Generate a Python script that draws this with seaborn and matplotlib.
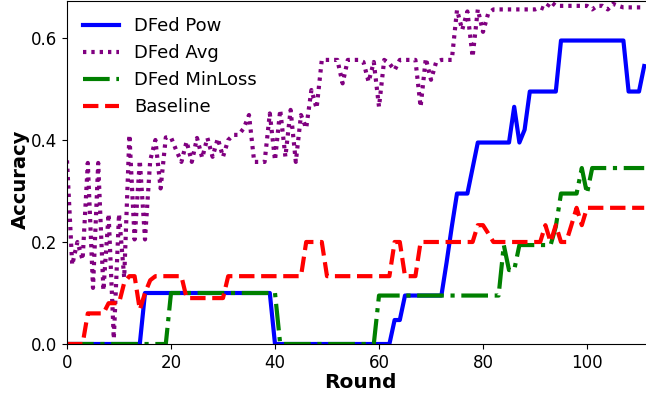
import numpy as np
import pandas as pd
import matplotlib
matplotlib.use("Agg")
import matplotlib.pyplot as plt
import seaborn as sns

rounds = list(range(112))

dfed_pow = ([0.0] * 15 + [0.1] * 25 + [0.0] * 23 + [0.047, 0.047] + [0.095] * 8 +
            [0.16, 0.23, 0.295, 0.295, 0.295, 0.345] + [0.395] * 7 +
            [0.465, 0.395, 0.42] + [0.495] * 6 + [0.595] * 13 + [0.495] * 3 + [0.545])

dfed_avg = [0.36, 0.155, 0.2, 0.165, 0.355, 0.11, 0.355, 0.105, 0.255, 0.01,
            0.255, 0.13, 0.41, 0.205, 0.36, 0.205, 0.36, 0.40, 0.305, 0.405,
            0.405, 0.38, 0.357, 0.397, 0.357, 0.404, 0.365, 0.404, 0.367, 0.403,
            0.367, 0.40, 0.41, 0.41, 0.423, 0.449, 0.357, 0.357, 0.357, 0.452,
            0.36, 0.459, 0.367, 0.459, 0.357, 0.449, 0.423, 0.498, 0.462, 0.557,
            0.557, 0.557, 0.557, 0.511, 0.557, 0.557, 0.557, 0.553, 0.514, 0.553,
            0.465, 0.557, 0.55, 0.537, 0.557, 0.557, 0.557, 0.557, 0.465, 0.56,
            0.518, 0.553, 0.557, 0.557, 0.557, 0.655, 0.616, 0.652, 0.563, 0.656,
            0.612, 0.648, 0.656, 0.656, 0.656, 0.656, 0.656, 0.656, 0.656, 0.656,
            0.656, 0.66, 0.656, 0.671, 0.663, 0.663, 0.663, 0.663, 0.663, 0.663,
            0.663, 0.656, 0.663, 0.663, 0.656, 0.667, 0.663, 0.66, 0.66, 0.66,
            0.66, 0.66]

dfed_minloss = ([0.0] * 20 + [0.1] * 21 + [0.0] * 19 + [0.095] * 24 +
                [0.194, 0.145, 0.145] + [0.194] * 7 + [0.23] +
                [0.295] * 4 + [0.345, 0.295] + [0.345] * 11)

baseline = ([0.0] * 4 + [0.06] * 4 + [0.08] * 3 + [0.12, 0.133, 0.133, 0.067, 0.1] +
            [0.125] + [0.133] * 6 + [0.09] * 8 + [0.133] * 15 + [0.2] * 4 + [0.133] * 13 +
            [0.2, 0.2, 0.133, 0.133, 0.133] + [0.2] * 11 + [0.233, 0.233, 0.217] +
            [0.2] * 10 + [0.233, 0.2, 0.233, 0.2, 0.2, 0.233, 0.267, 0.233] +
            [0.267] * 12)

labels = ["DFed Pow", "DFed Avg", "DFed MinLoss", "Baseline"]
colors = ["blue", "purple", "green", "red"]
styles = ["-", ":", "-.", "--"]
x_ticks = [0, 20, 40, 60, 80, 100]
y_ticks = [0.0, 0.2, 0.4, 0.6]

series = [dfed_pow, dfed_avg, dfed_minloss, baseline]

fig = plt.figure(figsize=(6.46, 3.96), dpi=100)
ax = fig.add_axes([67 / 646, 52 / 396, 582.4 / 646, 343 / 396])

for vals, lab, col, ls in zip(series, labels, colors, styles):
    sns.lineplot(x=rounds, y=vals, color=col, linestyle=ls, linewidth=3,
                 label=lab, ax=ax)
    if ls == ":":
        ax.lines[-1].set_dashes((0.8, 1.2))

ax.set_xlim(0, 112)
ax.set_ylim(0, 0.6725)
ax.set_xticks(x_ticks)
ax.set_yticks(y_ticks)
ax.tick_params(labelsize=12)
ax.set_xlabel("Round", fontsize=14.5, fontweight="bold")
ax.set_ylabel("Accuracy", fontsize=14, fontweight="bold")
ax.xaxis.set_label_coords(0.503, -0.084)
ax.yaxis.set_label_coords(-0.0635, 0.481)

leg = ax.legend(loc="upper left", fontsize=13, frameon=False,
                borderaxespad=0.5, handlelength=2.0)
for h in leg.get_lines():
    if h.get_linestyle() == ":":
        h.set_dashes((0.8, 1.2))

fig.savefig("out.png", dpi=100)
